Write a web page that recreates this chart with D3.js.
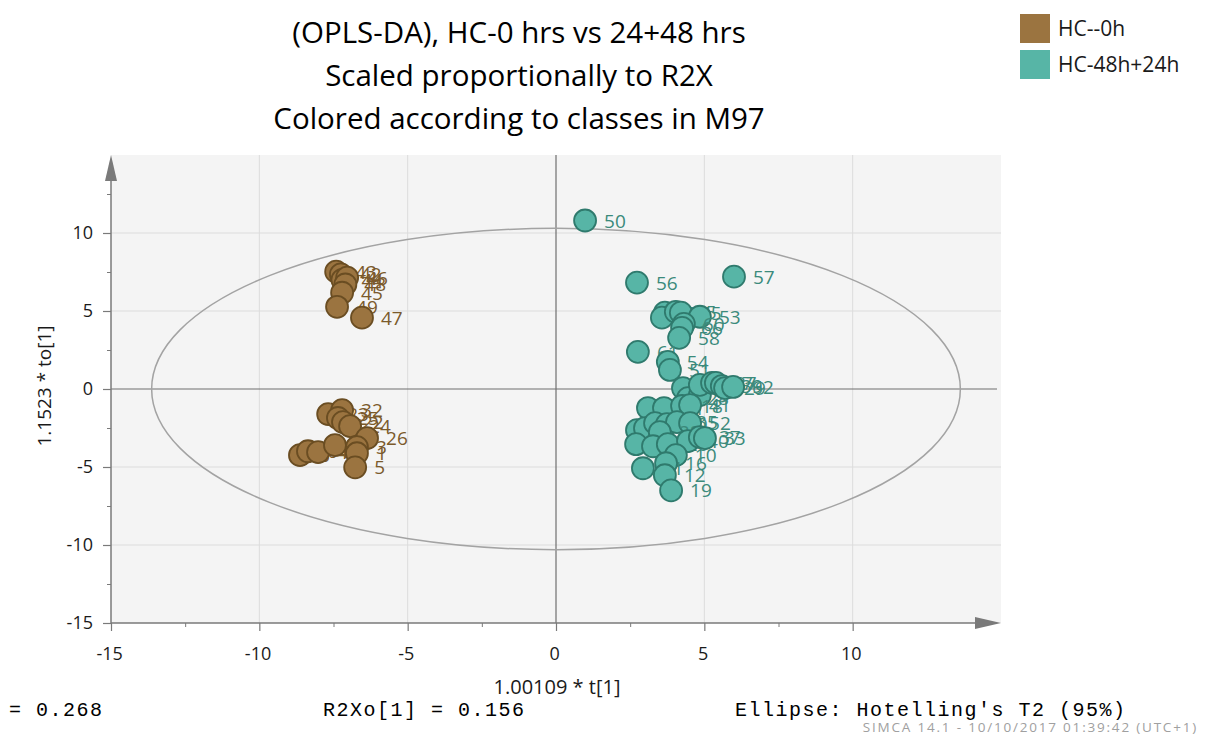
<!DOCTYPE html>
<html>
<head>
<meta charset="utf-8">
<script src="https://cdn.jsdelivr.net/npm/d3@7"></script>
<style>
  html, body { margin: 0; padding: 0; background: #ffffff; }
  svg { display: block; }
  text { font-family: "Open Sans", "Noto Sans", sans-serif; }
</style>
</head>
<body>
<svg id="chart" width="1206" height="737"></svg>
<script>
// ---- Score values (t[1] scaled, to[1] scaled) ----
const groupNames = ["HC--0h", "HC-48h+24h"];

// HC--0h observations
const hc0Labels = ["43", "42", "44", "46", "48", "45", "49", "47",
                   "6", "64", "4", "23", "32", "25", "22", "24", "2", "26", "3", "1", "5"];
const hc0X = [-7.41, -7.25, -7.20, -7.04, -7.10, -7.21, -7.38, -6.54,
              -8.63, -8.36, -8.02, -7.68, -7.21, -7.35, -7.18, -6.94, -7.45, -6.37, -6.71, -6.71, -6.77];
const hc0Y = [7.52, 7.35, 7.00, 7.14, 6.70, 6.17, 5.27, 4.57,
              -4.24, -3.99, -4.05, -1.61, -1.35, -1.86, -2.12, -2.38, -3.60, -3.15, -3.73, -4.12, -5.02];

// HC-48h+24h observations
const hc48Labels = ["50", "56", "57", "59", "63", "65", "55", "53", "60", "66", "58",
                    "61", "54", "51", "7", "28", "9", "13", "17", "27", "39", "29", "62",
                    "14", "31", "18", "41", "8", "34", "15", "30", "35", "52", "38",
                    "36", "11", "20", "40", "37", "33", "10", "21", "16", "12", "19"];
const hc48X = [0.98, 2.73, 6.00, 3.67, 3.57, 4.04, 4.21, 4.85, 4.31, 4.25, 4.15,
               2.76, 3.77, 3.84, 4.28, 4.45, 4.85, 4.85, 5.26, 5.39, 5.59, 5.70, 5.97,
               3.10, 3.64, 4.25, 4.52, 2.73, 3.00, 3.34, 3.74, 4.08, 4.52, 3.50,
               2.70, 3.27, 3.77, 4.45, 4.85, 5.02, 4.04, 2.93, 3.71, 3.67, 3.88];
const hc48Y = [10.80, 6.82, 7.20, 4.89, 4.57, 4.95, 4.89, 4.63, 4.18, 3.92, 3.28,
               2.38, 1.74, 1.22, 0.06, -0.58, -0.39, 0.26, 0.39, 0.39, 0.19, 0.06, 0.13,
               -1.22, -1.22, -1.09, -1.03, -2.64, -2.51, -2.19, -2.25, -2.12, -2.19, -2.77,
               -3.54, -3.67, -3.54, -3.34, -3.09, -3.15, -4.24, -5.08, -4.76, -5.53, -6.50];

// Hotelling's T2 (95%) ellipse half-axes
const ellipseRx = 13.63;
const ellipseRy = 10.3;

// Axis ticks
const majorTicks = [-15, -10, -5, 0, 5, 10];
const minorTicks = [-12.5, -7.5, -2.5, 2.5, 7.5, 12.5];

const titleLines = ["(OPLS-DA), HC-0 hrs vs 24+48 hrs",
                    "Scaled proportionally to R2X",
                    "Colored according to classes in M97"];
const footerTexts = ["= 0.268", "R2Xo[1] = 0.156", "Ellipse: Hotelling's T2 (95%)"];
const stampText = "SIMCA 14.1 - 10/10/2017 01:39:42 (UTC+1)";

// ---- Drawing ----
const svg = d3.select("#chart");
const plot = { left: 111, right: 1001, top: 155, bottom: 623 };

const x = d3.scaleLinear().domain([-15, 15]).range([plot.left, plot.right]);
const y = d3.scaleLinear().domain([-15, 15]).range([plot.bottom, plot.top]);

const colors = {
  fill: ["#9b7440", "#57b5a6"],
  stroke: ["#6a4d22", "#2f7a6d"],
  label: ["#7b5a2b", "#3b8a7b"]
};

// plot background
svg.append("rect")
  .attr("x", plot.left).attr("y", plot.top)
  .attr("width", plot.right - plot.left).attr("height", plot.bottom - plot.top)
  .attr("fill", "#f4f4f4");

// grid lines
const grid = svg.append("g").attr("stroke", "#dcdcdc").attr("stroke-width", 1);
majorTicks.filter(d => d !== 0 && d !== -15).forEach(d => {
  grid.append("line").attr("x1", x(d)).attr("x2", x(d)).attr("y1", plot.top).attr("y2", plot.bottom);
  grid.append("line").attr("x1", plot.left).attr("x2", plot.right).attr("y1", y(d)).attr("y2", y(d));
});

// zero lines
svg.append("line").attr("x1", x(0)).attr("x2", x(0)).attr("y1", plot.top).attr("y2", plot.bottom)
  .attr("stroke", "#6e6e6e").attr("stroke-width", 1.2);
svg.append("line").attr("x1", plot.left).attr("x2", plot.right - 4).attr("y1", y(0)).attr("y2", y(0))
  .attr("stroke", "#6e6e6e").attr("stroke-width", 1.2);

// ellipse
svg.append("ellipse")
  .attr("cx", x(0)).attr("cy", y(0))
  .attr("rx", x(ellipseRx) - x(0)).attr("ry", y(0) - y(ellipseRy))
  .attr("fill", "none").attr("stroke", "#a3a3a3").attr("stroke-width", 1.5);

// axes
const axisColor = "#7a7a7a";
const fmt = d => String(d);
const xAxis = d3.axisBottom(x).tickValues(majorTicks).tickSize(8).tickFormat(fmt);
const gx = svg.append("g").attr("transform", `translate(0,${plot.bottom})`).call(xAxis);
const yAxis = d3.axisLeft(y).tickValues(majorTicks).tickSize(8).tickFormat(fmt);
const gy = svg.append("g").attr("transform", `translate(${plot.left},0)`).call(yAxis);
[gx, gy].forEach(g => {
  g.select(".domain").remove();
  g.selectAll(".tick line").attr("stroke", axisColor).attr("stroke-width", 1.2);
  g.selectAll(".tick text").attr("fill", "#1a1a1a").style("font-size", "18px")
    .style("font-family", "'Open Sans', 'Noto Sans', sans-serif");
});
gx.selectAll(".tick text").attr("y", 24).attr("dy", "0.71em").attr("dx", "-0.1em");
gy.selectAll(".tick text").attr("x", -18);

const xMinor = d3.axisBottom(x).tickValues(minorTicks.filter(d => d < 12)).tickSize(4).tickFormat("");
svg.append("g").attr("transform", `translate(0,${plot.bottom})`).call(xMinor)
  .call(g => g.select(".domain").remove())
  .selectAll("line").attr("stroke", axisColor);
const yMinor = d3.axisLeft(y).tickValues(minorTicks).tickSize(4).tickFormat("");
svg.append("g").attr("transform", `translate(${plot.left},0)`).call(yMinor)
  .call(g => g.select(".domain").remove())
  .selectAll("line").attr("stroke", axisColor);

// axis lines with arrow heads
svg.append("line").attr("x1", plot.left).attr("x2", plot.left).attr("y1", plot.bottom).attr("y2", plot.top + 20)
  .attr("stroke", axisColor).attr("stroke-width", 1.5);
svg.append("line").attr("x1", plot.left).attr("x2", plot.right - 24).attr("y1", plot.bottom).attr("y2", plot.bottom)
  .attr("stroke", axisColor).attr("stroke-width", 1.5);
svg.append("path")
  .attr("d", `M${plot.left},${plot.top} L${plot.left - 6},${plot.top + 26} L${plot.left + 6},${plot.top + 26} Z`)
  .attr("fill", axisColor);
svg.append("path")
  .attr("d", `M${plot.right},${plot.bottom} L${plot.right - 26},${plot.bottom - 6} L${plot.right - 26},${plot.bottom + 6} Z`)
  .attr("fill", axisColor);

// axis titles
svg.append("text").attr("x", x(0) + 1).attr("y", 694).attr("text-anchor", "middle")
  .style("font-size", "20px").attr("fill", "#1a1a1a").text("1.00109 * t[1]");
svg.append("text").attr("transform", `translate(51,${y(0) - 3}) rotate(-90)`).attr("text-anchor", "middle")
  .style("font-size", "19px").attr("fill", "#1a1a1a").text("1.1523 * to[1]");

// observations: each mark followed by its label
function drawGroup(labels, xs, ys, gi) {
  const g = svg.append("g");
  const items = labels.map((lab, i) => ({ lab, x: xs[i], y: ys[i] }));
  const node = g.selectAll("g.obs").data(items).join("g").attr("class", "obs");
  node.append("circle")
    .attr("cx", d => x(d.x)).attr("cy", d => y(d.y)).attr("r", 11)
    .attr("fill", colors.fill[gi]).attr("stroke", colors.stroke[gi]).attr("stroke-width", 1.8);
  node.append("text")
    .attr("x", d => x(d.x) + 19).attr("y", d => y(d.y) + 7)
    .style("font-size", "19px").attr("fill", colors.label[gi])
    .text(d => d.lab);
}
drawGroup(hc0Labels, hc0X, hc0Y, 0);
drawGroup(hc48Labels, hc48X, hc48Y, 1);

// title
svg.append("g").selectAll("text").data(titleLines).join("text")
  .attr("x", 519).attr("y", (d, i) => 43 + i * 43)
  .attr("text-anchor", "middle").style("font-size", "29.5px").attr("fill", "#000")
  .text(d => d);

// legend
const legend = svg.append("g").attr("transform", "translate(1020,14)");
groupNames.forEach((name, i) => {
  legend.append("rect").attr("x", 0).attr("y", i * 36).attr("width", 30).attr("height", 29)
    .attr("fill", colors.fill[i]);
  legend.append("text").attr("x", 38).attr("y", i * 36 + 22)
    .style("font-size", "21px").attr("fill", "#1a1a1a").text(name);
});

// footer statistics
const footerX = [9, 323, 735];
svg.append("g").selectAll("text").data(footerTexts).join("text")
  .attr("x", (d, i) => footerX[i]).attr("y", 716)
  .style("font-family", "'Liberation Mono', 'DejaVu Sans Mono', monospace")
  .style("font-size", "20px").style("letter-spacing", "1.5px").attr("fill", "#000")
  .text(d => d);
svg.append("text").attr("x", 1198).attr("y", 732).attr("text-anchor", "end")
  .style("font-size", "13.5px").style("letter-spacing", "1.8px").attr("fill", "#a0a0a0").text(stampText);
</script>
</body>
</html>
